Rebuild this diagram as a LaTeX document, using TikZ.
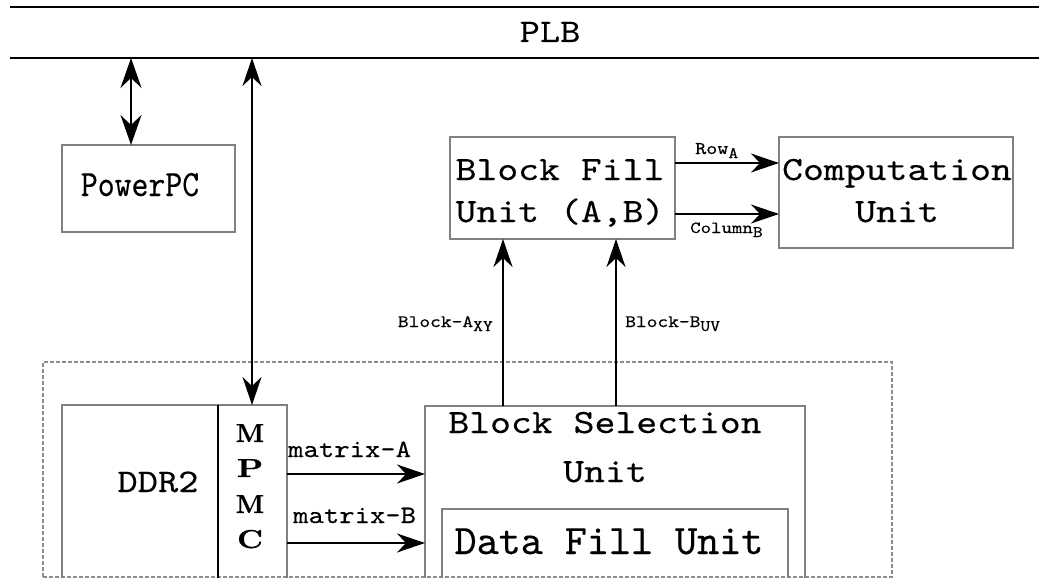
\documentclass[tikz,border=0pt]{standalone}
\usepackage{fontspec}
\usetikzlibrary{arrows.meta}
% Courier-like typewriter: Latin Modern Mono, widened and slightly emboldened
\newfontfamily\cour{lmmono10-regular}[Extension=.otf, FakeStretch=1.17, FakeBold=0.3]
\newfontfamily\courn{lmmono10-regular}[Extension=.otf, FakeBold=0.3]
\newfontfamily\mpmcfont{lmroman10-bold}[Extension=.otf, FakeBold=0.8]
\definecolor{boxgray}{RGB}{128,128,128}
\definecolor{dashgray}{RGB}{140,140,140}
\newcommand{\fs}[1]{\fontsize{#1}{#1}\selectfont}
\newcommand{\sub}[2]{{\fs{#1}\raisebox{-4pt}{#2}}}
\begin{document}
\begin{tikzpicture}[x=1pt,y=-1pt,
  unitbox/.style={draw=boxgray, line width=2.8pt, inner sep=0pt, outer sep=0pt},
  frame/.style={draw=dashgray, line width=2.4pt, dash pattern=on 4pt off 2pt, inner sep=0pt},
  bus/.style={line width=2pt},
  txt/.style={inner sep=0pt, anchor=base},
  conn/.style={line width=1.5pt, -{Stealth[length=28pt,width=19pt,inset=9pt]}},
  biconn/.style={line width=1.5pt, {Stealth[length=28pt,width=19pt,inset=9pt]}-{Stealth[length=28pt,width=19pt,inset=9pt]}},
  bigbiconn/.style={line width=1.6pt, {Stealth[length=30pt,width=21pt,inset=10pt]}-{Stealth[length=30pt,width=21pt,inset=10pt]}},
]
\useasboundingbox (0,0) rectangle (1039,578);
\clip (0,0) rectangle (1039,578);

% PLB bus
\coordinate (busTL) at (10,7);
\coordinate (busTR) at (1039,7);
\coordinate (busBL) at (10,58);
\coordinate (busBR) at (1039,58);
\draw[bus] (busTL) -- (busTR);
\draw[bus] (busBL) -- (busBR);
\node[txt, font=\cour\fs{33}] (plb) at (550,42) {PLB};

% grouping frame around memory side
\node[frame, minimum width=849pt, minimum height=215pt] (fpga) at (467.5,469.5) {};

% unit boxes
\node[unitbox, minimum width=173pt, minimum height=87pt] (ppc) at (148.5,188.5) {};
\node[unitbox, minimum width=225pt, minimum height=102pt] (bfu) at (562.5,188) {};
\node[unitbox, minimum width=234pt, minimum height=111pt] (comp) at (896,192.5) {};
\node[unitbox, minimum width=225pt, minimum height=185pt] (ddr) at (174.5,497.5) {};
\node[inner sep=0pt, outer sep=0pt, minimum width=69pt, minimum height=185pt] (mpmc) at (252.5,497.5) {};
\node[unitbox, minimum width=380pt, minimum height=184pt] (bsel) at (615,498) {};
\node[unitbox, line width=2.4pt, minimum width=346pt, minimum height=81pt] (dfu) at (615,549.5) {};

% divider between DDR2 and MPMC
\draw[line width=1.3pt] (mpmc.north west) -- (mpmc.south west);

% box texts
\node[txt, font=\courn\fs{37}] (ppcT) at (140,196) {\scalebox{0.87}[1]{PowerPC}};
\node[txt, font=\cour\fs{34}] (bfuT1) at (560,180) {Block Fill};
\node[txt, font=\cour\fs{34}] (bfuT2) at (560,222) {Unit (A,B)};
\node[txt, font=\cour\fs{34}] (compT1) at (897,180) {Computation};
\node[txt, font=\cour\fs{34}] (compT2) at (897,222) {Unit};
\node[txt, font=\cour\fs{33}] (ddrT) at (158,492) {DDR2};
\node[txt, font=\mpmcfont\fs{26}] (mpmcM1) at (250,442) {M};
\node[txt, font=\mpmcfont\fs{26}] (mpmcP) at (250,477) {\scalebox{1.3}[1]{P}};
\node[txt, font=\mpmcfont\fs{26}] (mpmcM2) at (250,513) {M};
\node[txt, font=\mpmcfont\fs{26}] (mpmcC) at (250,548) {\scalebox{1.2}[1]{C}};
\node[txt, font=\cour\fs{34}] (bselT1) at (605,433) {Block Selection};
\node[txt, font=\cour\fs{34}] (bselT2) at (605,482) {Unit};
\node[txt, font=\courn\fs{42}] (dfuT) at (609,554) {Data Fill Unit};

% connector anchor points
\coordinate (ppcX) at (131,0);
\coordinate (mpmcX) at (252,0);
\coordinate (baX) at (503,0);
\coordinate (bbX) at (616,0);
\coordinate (rowY) at (0,163);
\coordinate (colY) at (0,214);
\coordinate (maY) at (0,474);
\coordinate (mbY) at (0,543);

% bus connections
\draw[bigbiconn] (busBL -| ppcX) -- (ppc.north -| ppcX);
\draw[biconn] (busBL -| mpmcX) -- (mpmc.north -| mpmcX);

% data paths
\draw[conn] (mpmc.east |- maY) -- (bsel.west |- maY);
\draw[conn] (mpmc.east |- mbY) -- (bsel.west |- mbY);
\draw[conn] (bsel.north -| baX) -- (bfu.south -| baX);
\draw[conn] (bsel.north -| bbX) -- (bfu.south -| bbX);
\draw[conn] (bfu.east |- rowY) -- (comp.west |- rowY);
\draw[conn] (bfu.east |- colY) -- (comp.west |- colY);

% connector labels
\node[txt, anchor=base west, font=\cour\fs{25}] (maL) at (288,457) {matrix-A};
\node[txt, anchor=base west, font=\cour\fs{25}] (mbL) at (293,523) {matrix-B};
\node[txt, anchor=base east, font=\cour\fs{17.5}] (baL) at (493,327) {Block-A\sub{16}{XY}};
\node[txt, anchor=base west, font=\cour\fs{17.5}] (bbL) at (625,327) {Block-B\sub{16}{UV}};
\node[txt, anchor=base west, font=\cour\fs{18}] (rowL) at (695,154) {Row\sub{16}{A}};
\node[txt, anchor=base west, font=\cour\fs{17}] (colL) at (690,233) {Column\sub{16}{B}};
\end{tikzpicture}
\end{document}
